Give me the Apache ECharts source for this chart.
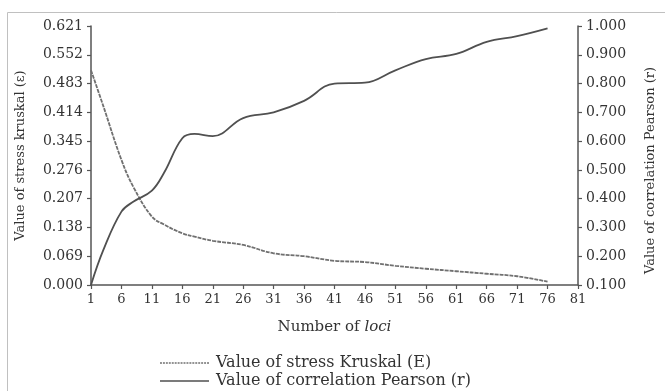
<!DOCTYPE html>
<html>
<head>
<meta charset="utf-8">
<script src="https://cdn.jsdelivr.net/npm/echarts@6/dist/echarts.min.js"></script>
<style>
html,body{margin:0;padding:0;background:#fff;}
#chart{width:665px;height:391px;}
</style>
</head>
<body>
<div id="chart"></div>
<script>
// ---- data ----
var loci = [1, 3, 6, 8, 11, 13, 16, 18, 21, 26, 31, 36, 41, 46, 51, 56, 61, 66, 71, 76];
var stressKruskal = [0.515, 0.430, 0.300, 0.234, 0.164, 0.145, 0.124, 0.116, 0.106, 0.096, 0.076, 0.069, 0.058, 0.055, 0.046, 0.039, 0.033, 0.027, 0.021, 0.008];
var pearson = [0.100, 0.220, 0.355, 0.390, 0.428, 0.490, 0.610, 0.625, 0.617, 0.680, 0.700, 0.740, 0.800, 0.803, 0.846, 0.885, 0.903, 0.945, 0.965, 0.992];
var xTickLabels = ['1','6','11','16','21','26','31','36','41','46','51','56','61','66','71','76','81'];
var leftTicks = [0.000, 0.069, 0.138, 0.207, 0.276, 0.345, 0.414, 0.483, 0.552, 0.621];
var rightTicks = [0.100, 0.200, 0.300, 0.400, 0.500, 0.600, 0.700, 0.800, 0.900, 1.000];
var seriesNames = ['Value of stress Kruskal (E)', 'Value of correlation Pearson (r)'];

var xCats = [];
for (var i = 1; i <= 81; i++) xCats.push(String(i));

function pairs(xs, ys) {
  return xs.map(function (x, k) { return [String(x), ys[k]]; });
}
function nearest(list, v) {
  return list.reduce(function (a, b) { return Math.abs(b - v) < Math.abs(a - v) ? b : a; });
}

var FONT = 'DejaVu Serif';
var TXT = '#333';
var AX = '#555';
var C_STRESS = '#707070';
var C_PEARSON = '#505050';

// legend icons: a thin bar centred in a 14-high box (tiny invisible slivers fix the box)
var box = 'M0,0H50V0.01H0Z M0,13.99H50V14H0Z ';
var solidIcon = 'path://' + box + 'M0,6.2H50V7.8H0Z';
var dashParts = [];
for (var d = 0; d < 50; d += 3) dashParts.push('M' + d + ',6.2H' + (d + 2) + 'V7.8H' + d + 'Z');
var dashIcon = 'path://' + box + dashParts.join('');

function legendRow(name, icon, top) {
  return {
    orient: 'horizontal',
    left: 155,
    top: top,
    itemWidth: 49,
    itemHeight: 14,
    textStyle: {fontFamily: FONT, fontSize: 16, color: TXT, padding: [0, 0, 0, 2]},
    data: [{name: name, icon: icon}]
  };
}

var chart = echarts.init(document.getElementById('chart'), null, {renderer: 'canvas'});
chart.setOption({
  animation: false,
  backgroundColor: '#fff',
  textStyle: {fontFamily: FONT},
  graphic: [
    {type: 'line', shape: {x1: 7.5, y1: 12.5, x2: 665, y2: 12.5}, style: {stroke: '#c0c0c0', lineWidth: 1}},
    {type: 'line', shape: {x1: 7.5, y1: 12.5, x2: 7.5, y2: 391}, style: {stroke: '#c0c0c0', lineWidth: 1}}
  ],
  grid: {left: 91, right: 87, top: 26, bottom: 106, containLabel: false},
  legend: [
    legendRow(seriesNames[0], dashIcon, 350),
    legendRow(seriesNames[1], solidIcon, 368)
  ],
  xAxis: {
    type: 'category',
    data: xCats,
    boundaryGap: false,
    name: '{n|Number of }{i|loci}',
    nameLocation: 'middle',
    nameGap: 35,
    nameTextStyle: {
      rich: {
        n: {fontFamily: FONT, fontSize: 15, color: TXT},
        i: {fontFamily: FONT, fontSize: 15, color: TXT, fontStyle: 'italic'}
      }
    },
    axisLine: {lineStyle: {color: AX, width: 1.5}},
    axisTick: {interval: 4, length: 4, lineStyle: {color: AX, width: 1.2}},
    axisLabel: {
      interval: 4,
      margin: 8,
      fontFamily: FONT, fontSize: 13, color: TXT,
      formatter: function (v) { return xTickLabels.indexOf(v) >= 0 ? v : ''; }
    },
    splitLine: {show: false}
  },
  yAxis: [
    {
      type: 'value',
      position: 'left',
      min: 0, max: 0.621, interval: 0.069,
      name: 'Value of stress kruskal (ε)',
      nameLocation: 'middle',
      nameRotate: 90,
      nameGap: 64,
      nameTextStyle: {fontFamily: FONT, fontSize: 13, color: TXT},
      axisLine: {show: true, lineStyle: {color: AX, width: 1.5}},
      axisTick: {show: true, length: 4, lineStyle: {color: AX, width: 1.2}},
      axisLabel: {
        margin: 8, fontFamily: FONT, fontSize: 14, color: TXT,
        formatter: function (v) { return nearest(leftTicks, v).toFixed(3); }
      },
      splitLine: {show: false}
    },
    {
      type: 'value',
      position: 'right',
      min: 0.1, max: 1.0, interval: 0.1,
      name: 'Value of correlation Pearson (r)',
      nameLocation: 'middle',
      nameRotate: 90,
      nameGap: 66,
      nameTextStyle: {fontFamily: FONT, fontSize: 13, color: TXT, padding: [0, 30, 0, 0]},
      axisLine: {show: true, lineStyle: {color: AX, width: 1.5}},
      axisTick: {show: true, length: 4, lineStyle: {color: AX, width: 1.2}},
      axisLabel: {
        margin: 8, fontFamily: FONT, fontSize: 14, color: TXT,
        formatter: function (v) { return nearest(rightTicks, v).toFixed(3); }
      },
      splitLine: {show: false}
    }
  ],
  series: [
    {
      name: seriesNames[0],
      type: 'line',
      yAxisIndex: 0,
      data: pairs(loci, stressKruskal),
      smooth: 0.4,
      symbol: 'none',
      lineStyle: {color: C_STRESS, width: 1.8, type: [4, 1]},
      itemStyle: {color: C_STRESS}
    },
    {
      name: seriesNames[1],
      type: 'line',
      yAxisIndex: 1,
      data: pairs(loci, pearson),
      smooth: 0.4,
      symbol: 'none',
      lineStyle: {color: C_PEARSON, width: 1.8},
      itemStyle: {color: C_PEARSON}
    }
  ]
});
</script>
</body>
</html>
